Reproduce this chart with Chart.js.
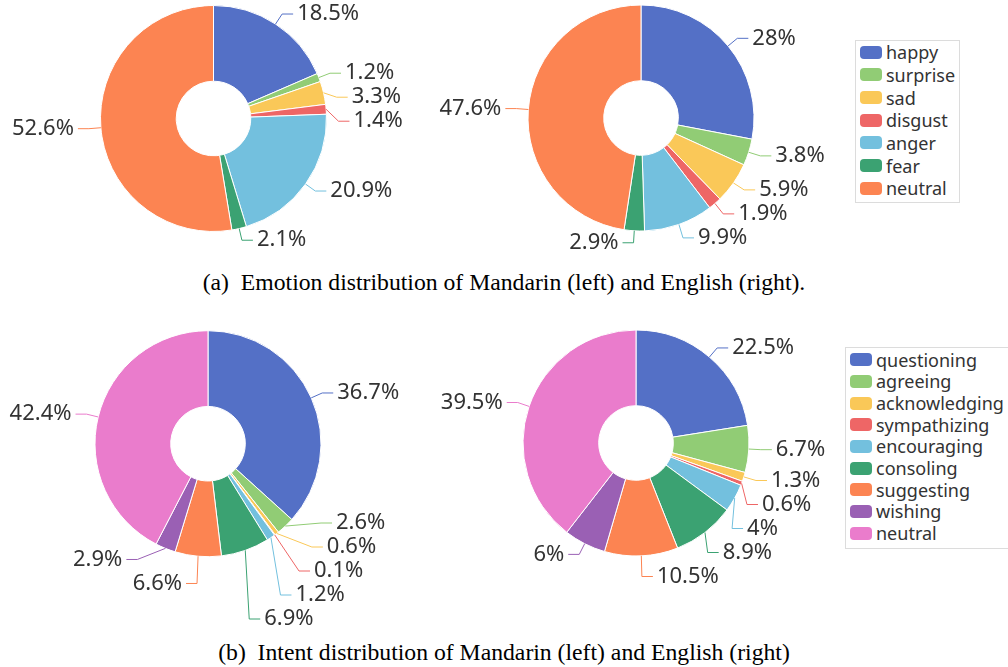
<!DOCTYPE html>
<html>
<head>
<meta charset="utf-8">
<script src="https://cdn.jsdelivr.net/npm/chart.js@4.4.0/dist/chart.umd.min.js"></script>
<style>
  body { margin: 0; background: #fff; width: 1008px; height: 667px; position: relative; overflow: hidden; }
  canvas { position: absolute; }
  .legend { position: absolute; border: 1px solid #dcdcdc; box-sizing: border-box; font-family: "Noto Sans"; font-size: 18px; color: #333; }
  .legend .row { display: flex; align-items: center; white-space: nowrap; }
  .legend .sw { display: inline-block; width: 22px; height: 13px; border-radius: 4px; margin-right: 4px; }
  .caption { position: absolute; left: 0; width: 1008px; text-align: center; font-family: "Liberation Serif"; font-size: 23.7px; line-height: 27px; color: #000; }
</style>
</head>
<body>
<canvas id="emoZh" width="420" height="262" style="left:0;top:0"></canvas>
<canvas id="emoEn" width="420" height="262" style="left:420px;top:0"></canvas>
<canvas id="intZh" width="420" height="331" style="left:0;top:300px"></canvas>
<canvas id="intEn" width="420" height="331" style="left:420px;top:300px"></canvas>
<div class="legend" id="legEmo" style="left:855px;top:40px;width:105px;height:163px;padding:0 0 0 4px"></div>
<div class="legend" id="legInt" style="left:845px;top:347px;width:170px;height:202px;padding:1px 0 0 4px"></div>
<div class="caption" style="top:269px">(a)&nbsp; Emotion distribution of Mandarin (left) and English (right).</div>
<div class="caption" style="top:639px">(b)&nbsp; Intent distribution of Mandarin (left) and English (right)</div>
<script>
const emotionLabels = ['happy', 'surprise', 'sad', 'disgust', 'anger', 'fear', 'neutral'];
const emotionMandarin = [18.5, 1.2, 3.3, 1.4, 20.9, 2.1, 52.6];
const emotionEnglish = [28, 3.8, 5.9, 1.9, 9.9, 2.9, 47.6];

const intentLabels = ['questioning', 'agreeing', 'acknowledging', 'sympathizing', 'encouraging',
  'consoling', 'suggesting', 'wishing', 'neutral'];
const intentMandarin = [36.7, 2.6, 0.6, 0.1, 1.2, 6.9, 6.6, 2.9, 42.4];
const intentEnglish = [22.5, 6.7, 1.3, 0.6, 4, 8.9, 10.5, 6, 39.5];

const palette = ['#5470c6', '#91cc75', '#fac858', '#ee6666', '#73c0de', '#3ba272', '#fc8452', '#9a60b4', '#ea7ccc'];

// outside labels with bent leader lines, shifted apart when they collide
const pieLabels = {
  id: 'pieLabels',
  afterDatasetsDraw(chart) {
    const ctx = chart.ctx;
    const values = chart.data.datasets[0].data;
    const colors = chart.data.datasets[0].backgroundColor;
    const len1 = 12, len2 = 11, gap = 4, h = 24;
    const items = chart.getDatasetMeta(0).data.map((arc, i) => {
      const p = arc.getProps(['x', 'y', 'startAngle', 'endAngle', 'outerRadius']);
      const mid = (p.startAngle + p.endAngle) / 2;
      const nx = Math.cos(mid), ny = Math.sin(mid);
      const R = p.outerRadius + len1;
      return {
        i, cx: p.x, cy: p.y, R,
        x0: p.x + nx * p.outerRadius, y0: p.y + ny * p.outerRadius,
        ex: p.x + nx * R, y: p.y + ny * R,
        dir: nx < 0 ? -1 : 1
      };
    });

    const layoutSide = (list) => {
      if (list.length < 2) return;
      list.sort((a, b) => a.y - b.y);
      let shifted = false;
      for (let k = 1; k < list.length; k++) {
        if (list[k].y < list[k - 1].y + h) { list[k].y = list[k - 1].y + h; shifted = true; }
      }
      const last = list[list.length - 1];
      if (last.y + h / 2 > chart.height) {
        last.y = chart.height - h / 2;
        shifted = true;
        for (let k = list.length - 2; k >= 0; k--) {
          if (list[k].y > list[k + 1].y - h) list[k].y = list[k + 1].y - h;
        }
      }
      if (!shifted) return;
      const cy = list[0].cy, cx = list[0].cx;
      [list.filter(d => d.y < cy), list.filter(d => d.y >= cy)].forEach(semi => {
        if (!semi.length) return;
        let far = semi[0];
        semi.forEach(d => { if (Math.abs(d.y - cy) > Math.abs(far.y - cy)) far = d; });
        const rA = far.R, dx0 = Math.abs(far.ex - cx), dyFar = Math.abs(far.y - cy);
        const rB = dx0 < rA ? dyFar / Math.sqrt(1 - dx0 * dx0 / (rA * rA)) : rA;
        semi.forEach(d => {
          const dy = Math.abs(d.y - cy);
          const t = rB > 0 ? Math.max(0, 1 - dy * dy / (rB * rB)) : 1;
          d.ex = cx + d.dir * Math.sqrt(t) * d.R;
        });
      });
    };
    layoutSide(items.filter(d => d.dir > 0));
    layoutSide(items.filter(d => d.dir < 0));

    ctx.save();
    ctx.lineWidth = 1;
    ctx.font = '22px "Noto Sans"';
    ctx.textBaseline = 'middle';
    items.forEach(d => {
      const endX = d.ex + d.dir * len2;
      ctx.strokeStyle = colors[d.i];
      ctx.beginPath();
      ctx.moveTo(d.x0, d.y0);
      ctx.lineTo(d.ex, d.y);
      ctx.lineTo(endX, d.y);
      ctx.stroke();
      ctx.fillStyle = '#333';
      ctx.textAlign = d.dir > 0 ? 'left' : 'right';
      ctx.fillText(values[d.i] + '%', endX + d.dir * gap, d.y);
    });
    ctx.restore();
  }
};

function drawPie(id, labels, values, cx, cy) {
  const canvas = document.getElementById(id);
  const r = 113, side = 2 * r + 1;
  const left = cx - side / 2, top = cy - side / 2;
  new Chart(canvas, {
    type: 'doughnut',
    data: {
      labels: labels,
      datasets: [{
        data: values,
        backgroundColor: palette.slice(0, values.length),
        borderColor: '#fff',
        borderWidth: 1
      }]
    },
    options: {
      responsive: false,
      animation: false,
      cutout: '33%',
      layout: { padding: { left: left, top: top, right: canvas.width - left - side, bottom: canvas.height - top - side } },
      plugins: { legend: { display: false }, tooltip: { enabled: false } }
    },
    plugins: [pieLabels]
  });
}

function drawLegend(id, labels, rowHeight) {
  const box = document.getElementById(id);
  labels.forEach((name, i) => {
    const row = document.createElement('div');
    row.className = 'row';
    row.style.height = rowHeight + 'px';
    row.innerHTML = '<span class="sw" style="background:' + palette[i] + '"></span>' + name;
    box.appendChild(row);
  });
}

drawPie('emoZh', emotionLabels, emotionMandarin, 213.5, 118.5);
drawPie('emoEn', emotionLabels, emotionEnglish, 221, 118);
drawPie('intZh', intentLabels, intentMandarin, 208, 143.7);
drawPie('intEn', intentLabels, intentEnglish, 216, 143);

drawLegend('legEmo', emotionLabels, 22.67);
drawLegend('legInt', intentLabels, 21.67);
</script>
</body>
</html>
